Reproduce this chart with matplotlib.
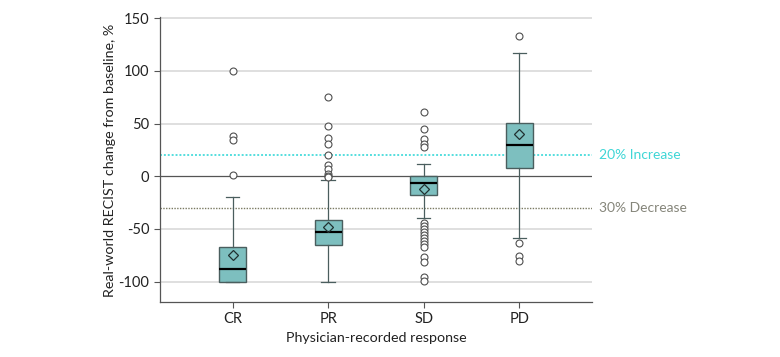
import matplotlib
matplotlib.use("Agg")
import matplotlib.pyplot as plt
from matplotlib.transforms import blended_transform_factory

# ---------------------------------------------------------------------------
# Data
# ---------------------------------------------------------------------------

categories = ["CR", "PR", "SD", "PD"]

whisker_low = [-100, -100, -40, -58.5]
q1 = [-100, -65, -17.5, 7.5]
median = [-87.5, -52.5, -6.5, 30]
q3 = [-67, -41, 0, 51]
whisker_high = [-20, -3.5, 11.5, 117]
mean = [-75, -48.5, -12, 40.5]

outliers = [
    [100, 38, 34, 0.8],
    [75.5, 48, 36.5, 30.5, 20, 10.5, 6.5, 2.5, 0.6, -0.8],
    [61, 44.5, 35.8, 31, 27.5,
     -44, -47, -50, -53, -56, -58.5, -61.5, -64, -67,
     -77, -81, -95.5, -99.5],
    [133.5, -63, -76, -80.5],
]

ytick_vals = [150, 100, 50, 0, -50, -100]
ref_lines = [20, -30]
ref_labels = ["20% Increase", "30% Decrease"]

# ---------------------------------------------------------------------------
# Figure
# ---------------------------------------------------------------------------

plt.rcParams['font.family'] = ['Lato', 'DejaVu Sans']

fig = plt.figure(figsize=(7.8, 3.57), dpi=100)
ax = fig.add_axes([0.205, 0.153, 0.554, 0.798])

stats = []
for i, cat in enumerate(categories):
    stats.append({
        'label': cat,
        'whislo': whisker_low[i],
        'q1': q1[i],
        'med': median[i],
        'q3': q3[i],
        'whishi': whisker_high[i],
        'mean': mean[i],
        'fliers': outliers[i],
    })

edge = '#4a5e5e'
ax.bxp(stats, positions=range(1, len(categories) + 1), widths=0.28,
       patch_artist=True, showmeans=True, showfliers=True, zorder=3,
       boxprops=dict(facecolor='#7dbfbf', edgecolor=edge, linewidth=1.0),
       medianprops=dict(color='black', linewidth=1.6),
       whiskerprops=dict(color=edge, linewidth=0.9),
       capprops=dict(color=edge, linewidth=0.9),
       meanprops=dict(marker='D', markersize=5.5, markerfacecolor='none',
                      markeredgecolor='#203030', markeredgewidth=0.9),
       flierprops=dict(marker='o', markersize=5, markerfacecolor='white',
                       markeredgecolor='#505050', markeredgewidth=0.8))

# grid and reference lines
for v in ytick_vals:
    if v != 0:
        ax.axhline(v, color='#d9d9d9', linewidth=1.2, zorder=0)
ax.axhline(0, color='#555555', linewidth=0.9, zorder=1)
ax.axhline(ref_lines[0], color='#55dede', linewidth=1.4, linestyle=(0, (1, 1)), zorder=1)
ax.axhline(ref_lines[1], color='#7a7a62', linewidth=1.0, linestyle=(0, (1, 1)), zorder=1)

trans = blended_transform_factory(ax.transAxes, ax.transData)
ax.text(1.016, ref_lines[0], ref_labels[0], transform=trans, color='#3fd6d6',
        fontsize=10, va='center', ha='left')
ax.text(1.016, ref_lines[1], ref_labels[1], transform=trans, color='#85857a',
        fontsize=10, va='center', ha='left')

ax.set_xlim(0.24, 4.76)
ax.set_ylim(-119.6, 150.6)
ax.set_yticks(ytick_vals)
ax.set_yticklabels([str(v) for v in ytick_vals])
ax.set_xticks(range(1, len(categories) + 1))
ax.set_xticklabels(categories)

for side in ['top', 'right']:
    ax.spines[side].set_visible(False)
for side in ['left', 'bottom']:
    ax.spines[side].set_color('#555555')
    ax.spines[side].set_linewidth(0.9)
ax.tick_params(axis='both', colors='#555555', labelcolor='#222222',
               labelsize=10.5, length=4, width=0.8)
ax.tick_params(axis='x', pad=3)

ax.set_xlabel("Physician-recorded response", fontsize=10.3, color='#222222', labelpad=4)
ax.set_ylabel("Real-world RECIST change from baseline, %", fontsize=10.3,
              color='#222222', labelpad=2)

fig.savefig("out.png", dpi=100)
